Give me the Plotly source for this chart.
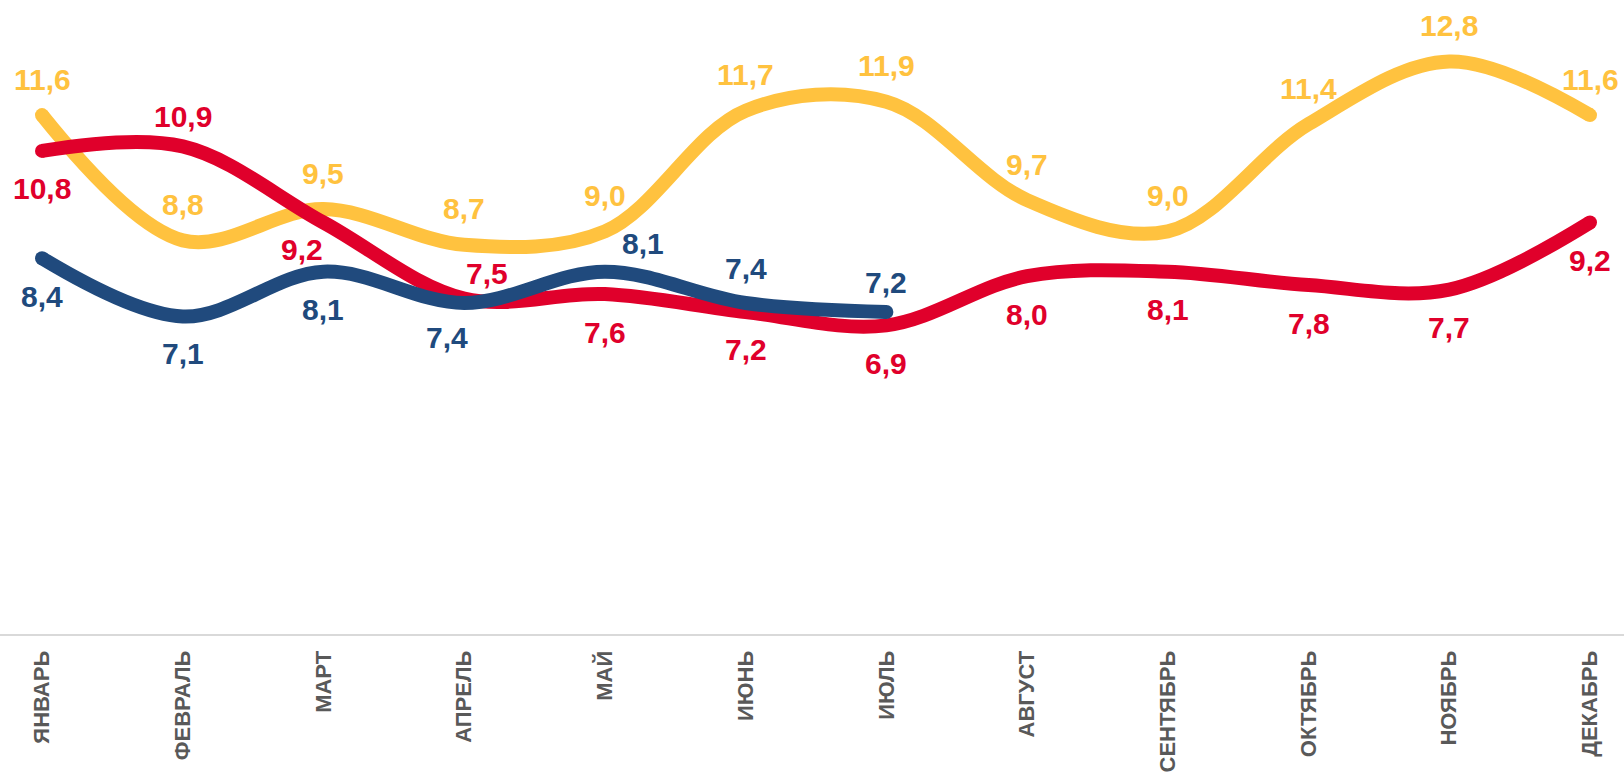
import plotly.graph_objects as go

months = ["ЯНВАРЬ", "ФЕВРАЛЬ", "МАРТ", "АПРЕЛЬ", "МАЙ", "ИЮНЬ", "ИЮЛЬ",
          "АВГУСТ", "СЕНТЯБРЬ", "ОКТЯБРЬ", "НОЯБРЬ", "ДЕКАБРЬ"]
yellow_vals = [11.6, 8.8, 9.5, 8.7, 9.0, 11.7, 11.9, 9.7, 9.0, 11.4, 12.8, 11.6]
red_vals = [10.8, 10.9, 9.2, 7.5, 7.6, 7.2, 6.9, 8.0, 8.1, 7.8, 7.7, 9.2]
blue_vals = [8.4, 7.1, 8.1, 7.4, 8.1, 7.4, 7.2]

YELLOW = "#FFC23F"
RED = "#E0002B"
BLUE = "#204A7D"

# label offsets (pixels): (xshift, yshift)
yellow_off = [(0, 36)] * 12
red_off = [(0, -38), (0, 30), (-21, -27), (23, 25)] + [(0, -38)] * 8
blue_off = [(0, -38), (0, -37), (0, -38), (-17, -35), (38, 28), (0, 34), (0, 29)]

x_idx = list(range(len(months)))

fig = go.Figure()
series = [(yellow_vals, YELLOW, yellow_off), (red_vals, RED, red_off), (blue_vals, BLUE, blue_off)]
for vals, col, offs in series:
    n = len(vals)
    xs = x_idx[:n]
    sizes = [14] + [0] * (n - 2) + [14]
    fig.add_trace(go.Scatter(
        x=xs, y=vals, mode="lines+markers",
        line=dict(color=col, width=14, shape="spline", smoothing=1.0),
        marker=dict(size=sizes, color=col, opacity=1, line=dict(width=0, color=col)),
        hoverinfo="skip", showlegend=False,
    ))
    for xi, v, (dx, dy) in zip(xs, vals, offs):
        fig.add_annotation(
            x=xi, y=v, xref="x", yref="y",
            text=f"{v:.1f}".replace(".", ","),
            showarrow=False, xshift=dx, yshift=dy,
            font=dict(family="Liberation Sans, Arial", size=30, color=col, weight=700),
        )

fig.update_layout(
    width=1624, height=773,
    margin=dict(l=0, r=0, t=10, b=131),
    paper_bgcolor="white", plot_bgcolor="white",
    xaxis=dict(
        range=[-0.2985, 11.2416],
        tickmode="array", tickvals=x_idx, ticktext=months,
        tickangle=-90,
        tickfont=dict(family="Liberation Sans, Arial", size=22, color="#595959", weight=700),
        showgrid=False, zeroline=False,
        showline=True, linecolor="#D9D9D9", linewidth=2,
        ticks="", ticklabelstandoff=6,
    ),
    yaxis=dict(range=[0, 13.95], visible=False, showgrid=False, zeroline=False),
)

fig.write_html(
    "out.html",
    config={"displayModeBar": False, "staticPlot": True},
    post_script="document.body.style.margin='0';document.body.style.overflow='hidden';",
)
